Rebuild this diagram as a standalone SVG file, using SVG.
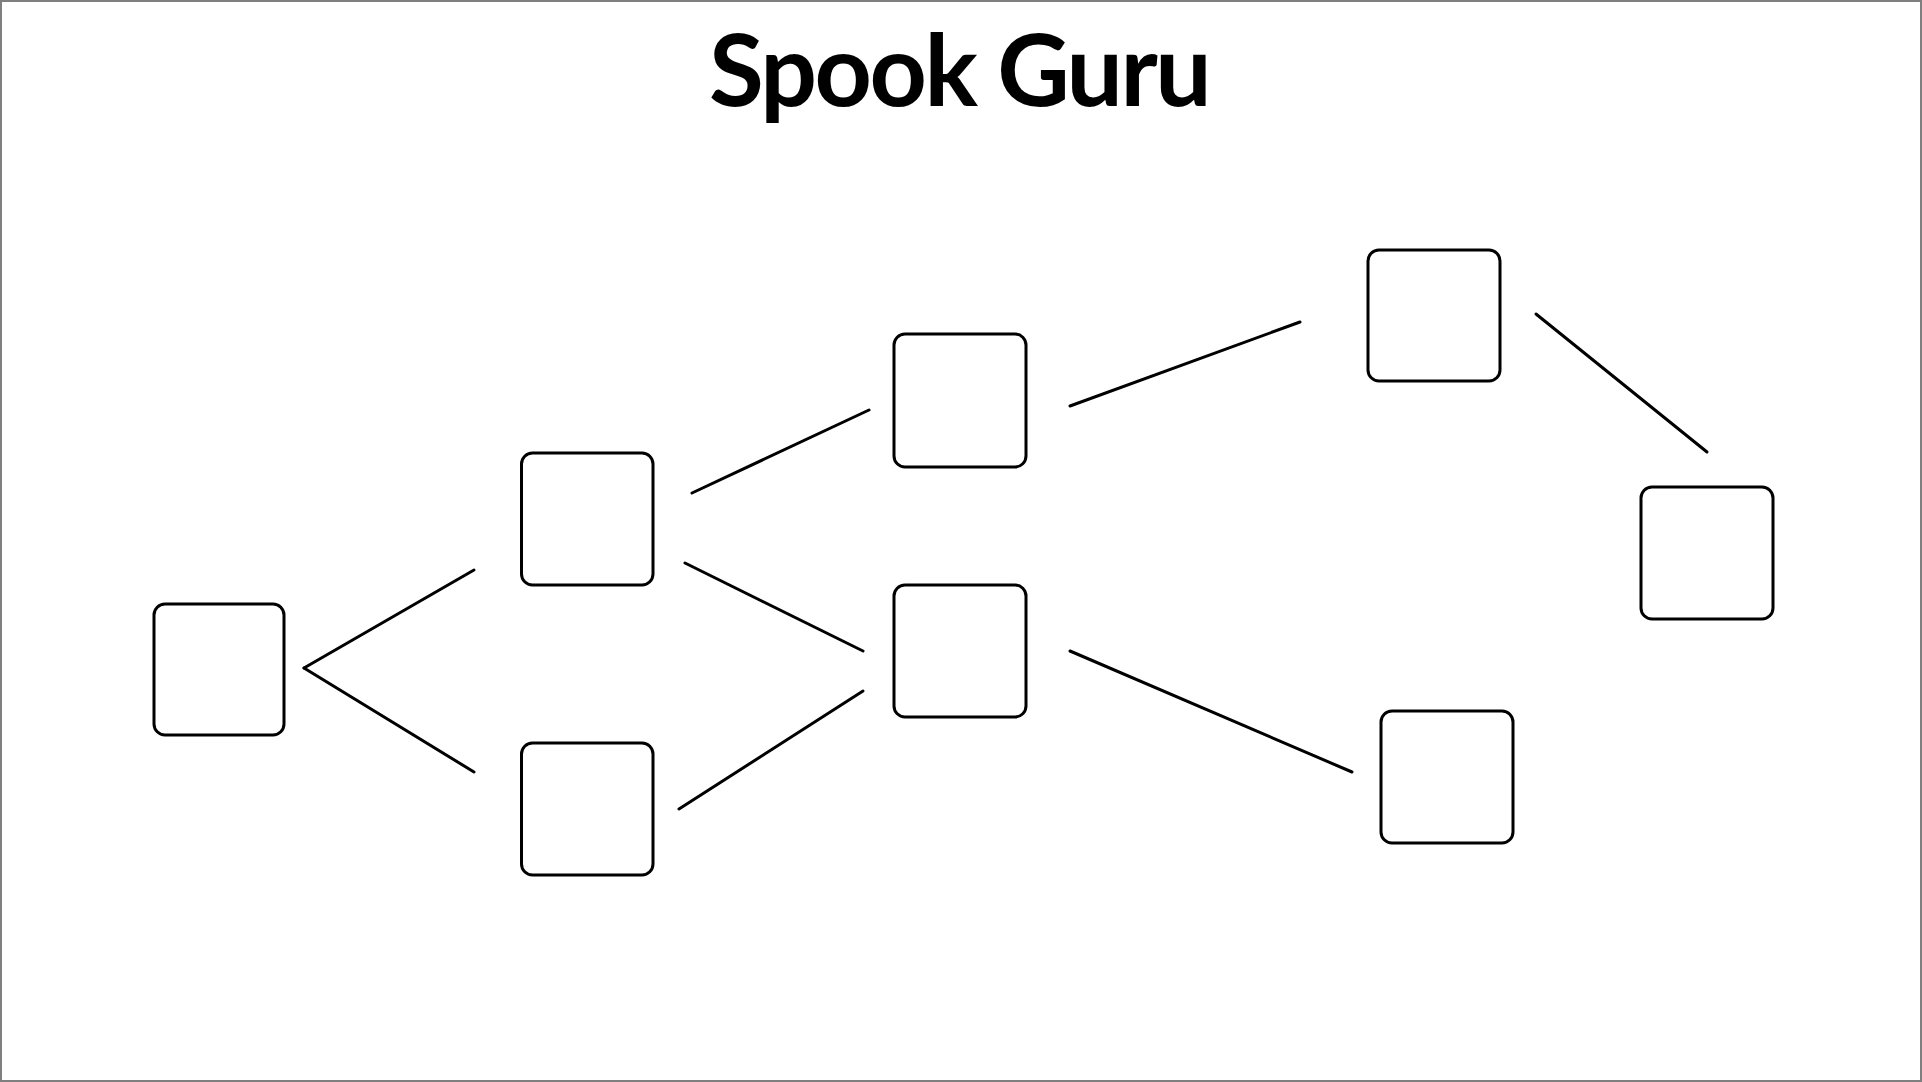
<svg xmlns="http://www.w3.org/2000/svg" width="1922" height="1082" viewBox="0 0 1922 1082">
<style>
.frame{fill:#ffffff;stroke:#7f7f7f;stroke-width:2}
.title{font-family:Lato,"Open Sans","Liberation Sans",sans-serif;font-weight:700;font-size:100px;letter-spacing:-2.5px;fill:#000000;text-anchor:middle}
.node rect{fill:#ffffff;stroke:#000000;stroke-width:3}
.edges line{stroke:#000000;stroke-width:3;stroke-linecap:round;fill:none}
</style>
<rect class="frame" x="1" y="1" width="1920" height="1080"/>
<text class="title" x="959" y="106">Spook Guru</text>
<g id="connectors" class="edges">
<line x1="474" y1="570" x2="304" y2="668"/>
<line x1="304" y1="668" x2="474" y2="772"/>
<line x1="692" y1="493" x2="869" y2="410"/>
<line x1="685" y1="563" x2="863" y2="651"/>
<line x1="679" y1="809" x2="863" y2="691"/>
<line x1="1070" y1="406" x2="1300" y2="322"/>
<line x1="1070" y1="651" x2="1352" y2="772"/>
<line x1="1536" y1="314" x2="1707" y2="452"/>
</g>
<g id="node-a" class="node"><rect x="154" y="604" width="130" height="131" rx="11"/></g>
<g id="node-b1" class="node"><rect x="521.5" y="453" width="131.5" height="132" rx="11"/></g>
<g id="node-b2" class="node"><rect x="521.5" y="743" width="131.5" height="132" rx="11"/></g>
<g id="node-c1" class="node"><rect x="894" y="334" width="132" height="133" rx="11"/></g>
<g id="node-c2" class="node"><rect x="894" y="585" width="132" height="132" rx="11"/></g>
<g id="node-d1" class="node"><rect x="1368" y="250" width="132" height="131" rx="11"/></g>
<g id="node-d2" class="node"><rect x="1381" y="711" width="132" height="132" rx="11"/></g>
<g id="node-e" class="node"><rect x="1641" y="487" width="132" height="132" rx="11"/></g>
</svg>
